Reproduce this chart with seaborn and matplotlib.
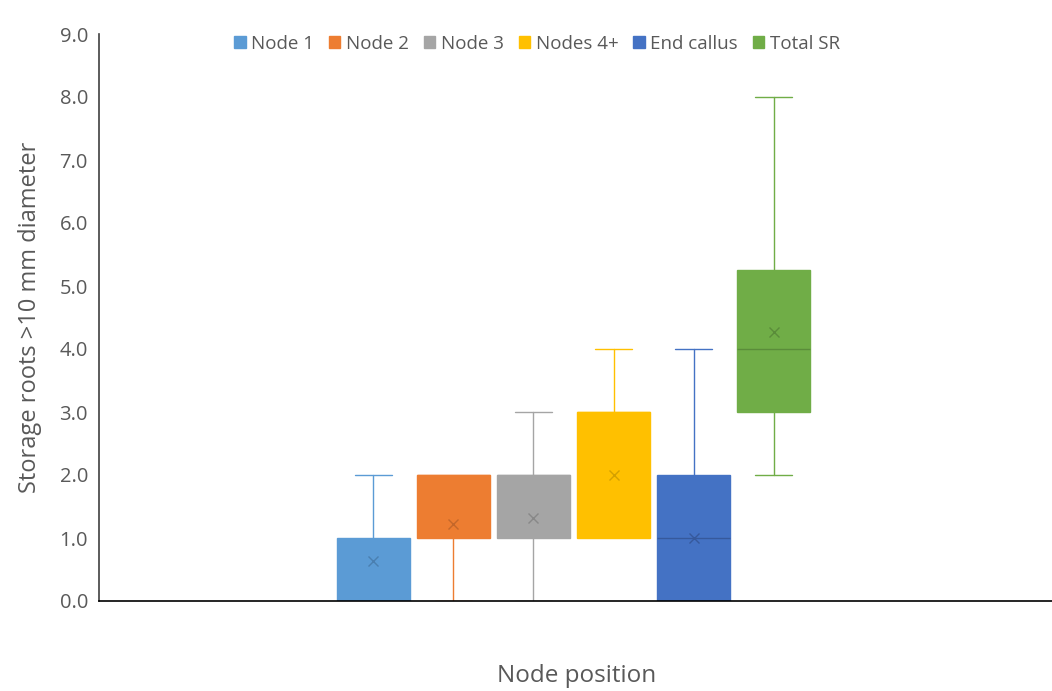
import matplotlib
matplotlib.use("Agg")
import matplotlib.pyplot as plt
import matplotlib.patches as mpatches
import seaborn as sns

# box-and-whisker summary values
groups = ["Node 1", "Node 2", "Node 3", "Nodes 4+", "End callus", "Total SR"]
mins = [0.0, 0.0, 0.0, 1.0, 0.0, 2.0]
q1s = [0.0, 1.0, 1.0, 1.0, 0.0, 3.0]
medians = [0.0, 2.0, 2.0, 3.0, 1.0, 4.0]
q3s = [1.0, 2.0, 2.0, 3.0, 2.0, 5.25]
maxs = [2.0, 2.0, 3.0, 4.0, 4.0, 8.0]
means = [0.63, 1.22, 1.32, 2.0, 1.0, 4.27]

colors = ["#5B9BD5", "#ED7D31", "#A5A5A5", "#FFC000", "#4472C4", "#70AD47"]
dark = ["#4A7FB0", "#C4672A", "#888888", "#D4A000", "#36599C", "#5A8C3A"]

sns.set_style("white")
plt.rcParams["font.family"] = ["Open Sans", "DejaVu Sans"]

fig = plt.figure(figsize=(10.52, 6.91), dpi=100)
ax = fig.add_axes([99 / 1052, 1 - 601 / 691, 1 - 99 / 1052, (601 - 34) / 691])

for i, g in enumerate(groups):
    s = {"label": g, "whislo": mins[i], "q1": q1s[i], "med": medians[i],
         "q3": q3s[i], "whishi": maxs[i], "mean": means[i]}
    # a median sitting on a box edge is not visible in the original
    med_col = colors[i] if medians[i] in (q1s[i], q3s[i]) else dark[i]
    parts = ax.bxp([s], positions=[i], widths=0.91, patch_artist=True,
                   showmeans=True, showfliers=False, manage_ticks=False,
                   boxprops=dict(facecolor=colors[i], edgecolor=colors[i], linewidth=1),
                   whiskerprops=dict(color=colors[i], linewidth=1.0),
                   capprops=dict(color=colors[i], linewidth=1.0),
                   medianprops=dict(color=med_col, linewidth=1),
                   meanprops=dict(marker="x", markeredgecolor=dark[i], markersize=7,
                                  markeredgewidth=1))
    # no cap where the whisker has zero length
    lo_cap, hi_cap = parts["caps"]
    lo_cap.set_visible(mins[i] < q1s[i])
    hi_cap.set_visible(maxs[i] > q3s[i])

ax.set_xlim(-3.43, 8.48)
ax.set_ylim(0, 9)
ax.set_yticks([i for i in range(10)])
ax.set_yticklabels([f"{i:.1f}" for i in range(10)])
ax.set_xticks([])

for side in ["top", "right"]:
    ax.spines[side].set_visible(False)
ax.spines["left"].set_color("#404040")
ax.spines["bottom"].set_color("#000000")
ax.spines["left"].set_linewidth(1.2)
ax.spines["bottom"].set_linewidth(1.2)
ax.tick_params(axis="y", direction="out", length=4, width=1, color="#404040",
               labelsize=14.5, labelcolor="#595959", pad=4)

ax.set_ylabel("Storage roots >10 mm diameter", fontsize=17, color="#595959")
ax.yaxis.set_label_coords((42 - 99) / 953, 0.5)
fig.text(577 / 1052, 1 - 676 / 691, "Node position", ha="center", va="center",
         fontsize=17.5, color="#595959")

handles = [mpatches.Patch(color=c, label=g) for g, c in zip(groups, colors)]
fig.legend(handles=handles, loc="center", bbox_to_anchor=(537 / 1052, 1 - 44 / 691),
           ncol=6, frameon=False, fontsize=13.5, handlelength=0.6, handleheight=0.6,
           handletextpad=0.3, columnspacing=0.8, labelcolor="#595959")

fig.savefig("out.png", dpi=100)
